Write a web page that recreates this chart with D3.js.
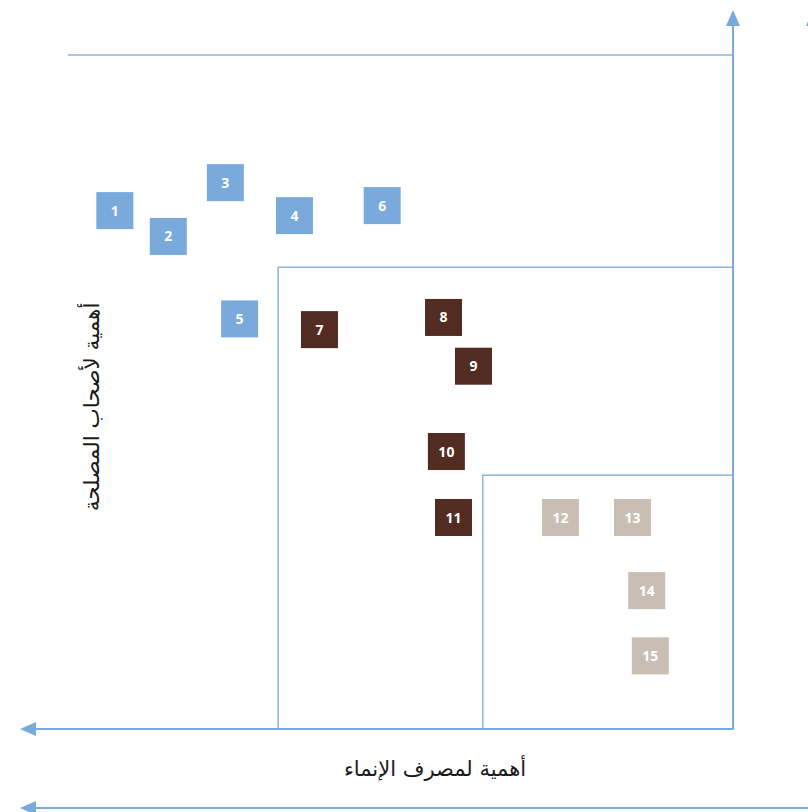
<!DOCTYPE html>
<html><head><meta charset="utf-8">
<script src="https://cdn.jsdelivr.net/npm/d3@7"></script>
<style>body{margin:0;background:#fff}svg{display:block}</style>
</head><body>
<svg id="c" width="808" height="812"></svg>
<script>
// Data (importance to bank on x, importance to stakeholders on y; 0-100)
const ids      = [1,2,3,4,5,6,7,8,9,10,11,12,13,14,15];
const bankImp  = [86.7,79.2,71.2,61.5,69.2,49.2,58.0,40.6,36.4,40.2,39.2,24.2,14.1,12.1,11.6];
const stakeImp = [72.3,68.7,76.2,71.6,57.2,73.0,55.7,57.4,50.6,38.7,29.5,29.5,29.5,19.3,10.2];
const groups   = ["high","high","high","high","high","high","mid","mid","mid","mid","mid","low","low","low","low"];
const zoneX = [93.3, 63.8, 35.1]; // outer, middle, inner thresholds (bank)
const zoneY = [94.0, 64.4, 35.4]; // outer, middle, inner thresholds (stakeholders)
const xLabel = "أهمية لمصرف الإنماء";
const yLabel = "أهمية لأصحاب المصلحة";

const colors = {high:"#7AAADC", mid:"#522B21", low:"#C9BEB4"};
const lineCol = "#8DB4E2";
const svg = d3.select("#c");
const x = d3.scaleLinear().domain([0,100]).range([733,20]);
const y = d3.scaleLinear().domain([0,100]).range([729,12]);

// zone boxes
svg.append("line").attr("x1",x(zoneX[0])).attr("x2",x(0)).attr("y1",y(zoneY[0])).attr("y2",y(zoneY[0]))
  .attr("stroke",lineCol).attr("stroke-width",1.5);
[1,2].forEach(i=>{
  svg.append("rect").attr("x",x(zoneX[i])).attr("y",y(zoneY[i])).attr("width",x(0)-x(zoneX[i])).attr("height",y(0)-y(zoneY[i]))
    .attr("fill","none").attr("stroke",lineCol).attr("stroke-width",1.5);
});

// axes
const axCol = "#7AAADC";
svg.append("line").attr("x1",x(0)).attr("x2",x(0)).attr("y1",y(0)).attr("y2",y(100)+10).attr("stroke",axCol).attr("stroke-width",2);
svg.append("line").attr("x1",x(0)).attr("x2",x(100)+10).attr("y1",y(0)).attr("y2",y(0)).attr("stroke",axCol).attr("stroke-width",2);
// arrowheads
svg.append("path").attr("d",`M${x(0)},${y(100)-2} L${x(0)-7},${y(100)+14} L${x(0)+7},${y(100)+14} Z`).attr("fill",axCol);
svg.append("path").attr("d",`M${x(100)},${y(0)} L${x(100)+16},${y(0)-7} L${x(100)+16},${y(0)+7} Z`).attr("fill",axCol);
// extra cropped arrows
svg.append("line").attr("x1",x(100)+10).attr("x2",808).attr("y1",808).attr("y2",808).attr("stroke",axCol).attr("stroke-width",2);
svg.append("path").attr("d",`M${x(100)},808 L${x(100)+16},801 L${x(100)+16},815 Z`).attr("fill",axCol);
svg.append("path").attr("d",`M813,10 L806,26 L820,26 Z`).attr("fill",axCol);

// squares
const data = ids.map((id,i)=>({id, bx:bankImp[i], sy:stakeImp[i], g:groups[i]}));
const s = 37;
const g = svg.selectAll("g.pt").data(data).join("g").attr("class","pt")
  .attr("transform",d=>`translate(${x(d.bx)},${y(d.sy)})`);
g.append("rect").attr("x",-s/2).attr("y",-s/2).attr("width",s).attr("height",s).attr("fill",d=>colors[d.g]);
g.append("text").text(d=>d.id).attr("text-anchor","middle").attr("dy","0.36em")
  .attr("fill","#fff").attr("font-family","'Open Sans', 'DejaVu Sans', sans-serif").attr("font-weight","bold").attr("font-size",14);

// labels
svg.append("text").text(xLabel).attr("x",435).attr("y",776).attr("text-anchor","middle")
  .attr("font-family","'DejaVu Sans', sans-serif").attr("font-size",21).attr("fill","#1a1a1a").attr("direction","rtl");
svg.append("text").text(yLabel).attr("transform","translate(99,407) rotate(-90)").attr("text-anchor","middle")
  .attr("font-family","'DejaVu Sans', sans-serif").attr("font-size",21.5).attr("fill","#1a1a1a").attr("direction","rtl");
</script>
</body></html>
